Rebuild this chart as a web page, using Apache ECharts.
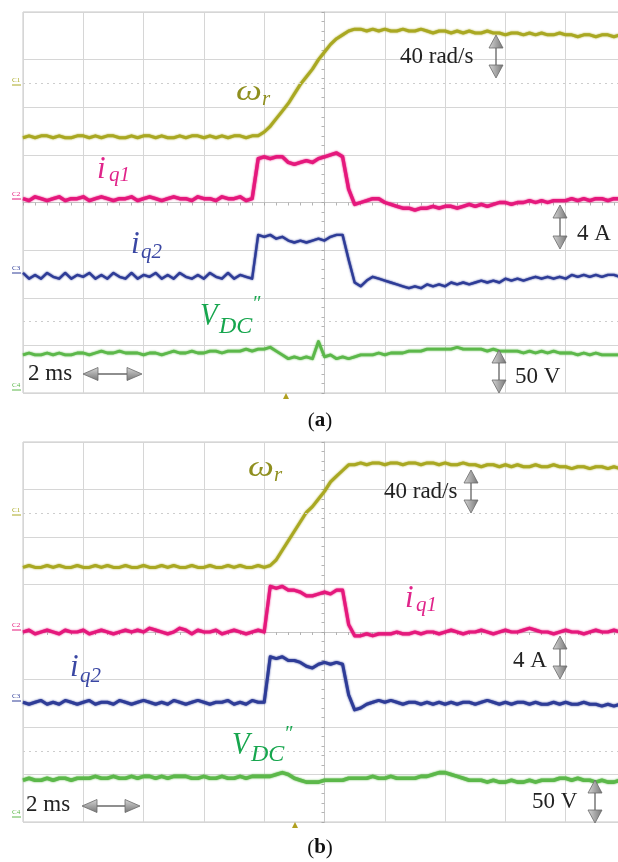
<!DOCTYPE html>
<html><head><meta charset="utf-8">
<script src="https://cdn.jsdelivr.net/npm/echarts@6.0.0/dist/echarts.min.js"></script>
<style>html,body{margin:0;padding:0;background:#fff}#c{width:618px;height:862px}</style>
</head><body><div id="c"></div>
<script>
// Oscilloscope time base: 2 ms/div, 10 divisions, one sample every 0.2 ms
const SAMPLE_MS = 0.2, START_MS = -10;
// Values are in screen units: 25 units = 1 vertical division (0 = screen centre)

// ---------- panel (a) ----------
const omegaA = [34,35,34,35,35,34,35,34,34,35, 35,34,35,34,35,35,34,34,35,34, 35,35,34,35,34,34,35,34,35,35, 34,35,34,35,34,35,35,34,35,
  35,37,40,44,48,52,57,62,66,70,75,79,83,86,88,90,91,91,
  90,91,90,91,90,90,91,90,90,91, 90,89,90,90,89,90,89,90,89,89, 90,89,89,88,89,89,88,89,88,89, 88,88,89,88,88,87,88,88,87,88, 88,87,88,87];
const iq1A = [2,1,3,2,1,2,3,1,2,2, 3,1,2,3,2,1,2,2,3,1, 2,3,2,1,2,3,2,2,1,3, 2,2,1,3,2,2,3,1,2,
  23,24,23,24,24,21,20,21,22,21,23,24,25,26,24,7,-1,0,
  1,2,2,0,-1,-2,-3,-3,-4,-3, -3,-2,-3,-2,-2,-3,-2,-1,-2,-1, -2,-1,0,0,-1,0,0,1,0,1, 0,1,1,1,2,1,2,1,2,2, 1,2,2,2];
const iq2A = [-37,-40,-38,-40,-37,-39,-40,-37,-40,-38, -39,-37,-40,-38,-40,-37,-39,-40,-37,-40, -38,-39,-37,-40,-38,-40,-37,-39,-40,-38, -40,-37,-39,-40,-37,-40,-38,-39,-40,
  -17,-18,-17,-19,-18,-20,-21,-20,-21,-20,-19,-20,-18,-17,-17,-30,-42,-44,
  -41,-39,-40,-41,-42,-43,-44,-45,-44,-45, -43,-44,-43,-44,-42,-43,-42,-43,-42,-41, -42,-41,-42,-40,-41,-40,-41,-40,-39,-40, -39,-40,-39,-40,-38,-39,-38,-39,-38,-39, -38,-38,-39,-38];
const vdcA = [-80,-79,-80,-80,-79,-80,-79,-80,-80,-79, -79,-80,-79,-78,-79,-79,-78,-79,-79,-79, -80,-79,-79,-80,-79,-78,-79,-79,-78,-79, -79,-78,-78,-79,-78,-78,-78,-77,-78,
  -77,-77,-76,-78,-80,-82,-81,-82,-81,-82, -73,-81,-80,-82,-81,-82,-81,-80,-80,-80, -79,-80,-79,-79,-79,-78,-78,-78,-77,-77,
  -77,-77,-77,-76,-77,-77,-77,-77,-78,-77, -78,-78,-78,-78,-79,-78,-79,-78,-79,-78, -79,-79,-79,-80,-79,-80,-79,-80,-80,-80, -80,-80];

// ---------- panel (b) ----------
const omegaB = [34,35,34,34,35,34,35,34,34,35, 34,34,35,34,35,34,34,35,34,34, 35,34,34,35,34,35,34,34,35,34, 34,35,34,34,35,34,35,34,34,35, 34,
  35,38,43,48,53,58,63,66,70,74,79,82,85,88,
  88,89,88,89,89,88,89,89,88,89, 89,88,89,89,88,89,88,88,89,88, 88,87,88,88,87,88,87,88,87,87, 88,87,87,88,87,87,86,87,87,86, 87,87,86,87,86,86];
const iq1B = [0,1,-1,0,1,0,-1,1,0,0, 1,-1,0,1,0,-1,0,1,0,1, 0,2,1,0,-1,0,2,1,-1,1, 0,0,1,-1,0,1,0,-1,0,1, 0,
  24,23,24,22,22,21,19,19,20,21,20,22,22,4,-2,-2,
  -1,-2,-1,-1,-1,0,-1,-1,0,-1, 0,0,-1,0,1,0,-1,0,0,1, 0,-1,0,1,0,0,1,2,1,0, 0,-1,0,1,0,0,-1,0,1,0, 0,1,0,0];
const iq2B = [-37,-38,-37,-36,-38,-37,-38,-36,-37,-38, -37,-36,-38,-37,-37,-38,-36,-37,-38,-37, -36,-37,-38,-37,-38,-36,-37,-38,-37,-36, -37,-38,-37,-37,-36,-38,-37,-38,-36,-37, -37,
  -13,-14,-13,-15,-15,-16,-18,-19,-17,-16,-17,-16,-17,-33,-41,-40,
  -38,-37,-36,-37,-36,-37,-38,-37,-37,-38, -37,-38,-37,-38,-37,-38,-37,-37,-38,-37, -36,-37,-38,-37,-38,-37,-37,-38,-37,-38, -38,-37,-38,-37,-38,-38,-37,-38,-38,-39, -38,-39,-38,-39];
const vdcB = [-78,-77,-78,-78,-77,-78,-77,-77,-78,-77, -77,-77,-76,-77,-77,-76,-77,-77,-76,-77, -76,-76,-77,-76,-77,-76,-76,-76,-77,-77, -76,-77,-77,-76,-77,-77,-76,-77,-76,-76, -76,
  -76,-75,-74,-75,-77,-78,-79,-79,-79,-78, -78,-78,-78,-77,-77,-77,-77,-76,-77,-77, -76,-77,-77,-77,-77,-76,-76,-75,-74,-74,
  -75,-76,-77,-78,-78,-78,-79,-78,-79,-79, -78,-79,-79,-78,-79,-78,-78,-78,-77,-77, -78,-77,-78,-78,-79,-78,-79,-79,-78,-78];

const refLevels = [62.5, -62.5];
const panelTags = ['a', 'b'];
const scaleTexts = ['40 rad/s', '4 A', '50 V', '2 ms'];

const COL = {w:'#a9a822', iq1:'#e5187c', iq2:'#2e3c97', vdc:'#5cb84a'};
const LAB = {w:'#8f8f1f', iq1:'#e0248a', iq2:'#3a47a3', vdc:'#17a64e'};
const SERIF = '"Liberation Serif","DejaVu Serif",serif';

function pairs(arr){ return arr.map((v,i)=>[+(START_MS + i*SAMPLE_MS).toFixed(2), v]); }

function trace(data, g, color, width, extra){
  return Object.assign({type:'line', xAxisIndex:g, yAxisIndex:g, data:pairs(data), showSymbol:false, symbol:'none',
    lineStyle:{color, width, shadowBlur:2, shadowColor:color, join:'round'}, silent:true, animation:false}, extra||{});
}
function xAx(g){ return {type:'value', gridIndex:g, min:-10, max:10, interval:2,
  axisLabel:{show:false}, splitLine:{show:true, lineStyle:{color:'#d6d6d6', width:1}},
  axisLine:{show:true, onZero:true, lineStyle:{color:'#c6c6c6', width:1}},
  axisTick:{show:true, inside:false, length:3, lineStyle:{color:'#aaa'}},
  minorTick:{show:true, splitNumber:5, length:3, lineStyle:{color:'#b4b4b4'}}, minorSplitLine:{show:false}}; }
function yAx(g){ return {type:'value', gridIndex:g, min:-100, max:100, interval:25,
  axisLabel:{show:false}, splitLine:{show:true, lineStyle:{color:'#d6d6d6', width:1}},
  axisLine:{show:true, onZero:true, lineStyle:{color:'#c6c6c6', width:1}},
  axisTick:{show:true, inside:false, length:3, lineStyle:{color:'#aaa'}},
  minorTick:{show:true, splitNumber:5, length:3, lineStyle:{color:'#b4b4b4'}}, minorSplitLine:{show:false}}; }

const refLine = {silent:true, symbol:'none', label:{show:false}, animation:false,
  lineStyle:{type:[2,4], color:'#cdcdcd', width:1, shadowBlur:0}, data: refLevels.map(v=>({yAxis:v}))};

function T(x, y, text, size, color, o){
  o = o||{};
  return {type:'text', x, y, z:100, silent:true, rotation:o.rot||0, scaleX:o.sx||1,
    style:{text, fill:color, fontSize:size, fontFamily:SERIF, fontStyle:o.italic?'italic':'normal',
      fontWeight:o.bold?'bold':'normal', textAlign:o.align||'left', textVerticalAlign:'middle', rich:o.rich}};
}
function grad(){ return new echarts.graphic.LinearGradient(0,0,1,0,[{offset:0,color:'#d6d6d6'},{offset:1,color:'#767676'}]); }
function vArrow(x, y1, y2){
  const hw=7, hh=13;
  return [
    {type:'line', z:99, silent:true, shape:{x1:x,y1:y1+hh,x2:x,y2:y2-hh}, style:{stroke:'#555', lineWidth:1.2}},
    {type:'polygon', z:100, silent:true, shape:{points:[[x,y1],[x-hw,y1+hh],[x+hw,y1+hh]]}, style:{fill:grad(), stroke:'#6a6a6a', lineWidth:0.8}},
    {type:'polygon', z:100, silent:true, shape:{points:[[x,y2],[x-hw,y2-hh],[x+hw,y2-hh]]}, style:{fill:grad(), stroke:'#6a6a6a', lineWidth:0.8}}
  ];
}
function hArrow(x1, x2, y){
  const hw=15, hh=6.5;
  const g2 = ()=>new echarts.graphic.LinearGradient(0,0,0,1,[{offset:0,color:'#d6d6d6'},{offset:1,color:'#767676'}]);
  return [
    {type:'line', z:99, silent:true, shape:{x1:x1+hw,y1:y,x2:x2-hw,y2:y}, style:{stroke:'#444', lineWidth:1.2}},
    {type:'polygon', z:100, silent:true, shape:{points:[[x1,y],[x1+hw,y-hh],[x1+hw,y+hh]]}, style:{fill:g2(), stroke:'#6a6a6a', lineWidth:0.8}},
    {type:'polygon', z:100, silent:true, shape:{points:[[x2,y],[x2-hw,y-hh],[x2-hw,y+hh]]}, style:{fill:g2(), stroke:'#6a6a6a', lineWidth:0.8}}
  ];
}
function chan(x, y, t, c){ return [T(x, y, t, 7, c, {}), {type:'line', z:100, silent:true, shape:{x1:x, y1:y+5, x2:x+9, y2:y+5}, style:{stroke:c, lineWidth:1}}]; }
function trig(x, y){ return {type:'polygon', z:100, silent:true, shape:{points:[[x,y-4],[x-3,y+2],[x+3,y+2]]}, style:{fill:'#b0a020'}}; }

const graphics = [].concat(
  // panel (a)
  T(236, 92, 'ω', 30, LAB.w, {italic:true, sx:1.22}), T(262, 99, 'r', 21, LAB.w, {italic:true}),
  T(97, 169.5, 'i', 31, LAB.iq1, {italic:true}), T(109, 175, 'q1', 21, LAB.iq1, {italic:true}),
  T(131, 244.5, 'i', 31, LAB.iq2, {italic:true}), T(141, 252, 'q2', 21, LAB.iq2, {italic:true}),
  T(200, 317, 'V', 32, LAB.vdc, {italic:true, sx:0.9}), T(219, 327, 'DC', 24, LAB.vdc, {italic:true}), T(252, 305, '″', 20, LAB.vdc, {italic:true}),
  T(400, 57, scaleTexts[0], 23, '#222'), vArrow(496, 35, 78),
  T(577, 234, scaleTexts[1], 23, '#222'), vArrow(560, 205, 249),
  T(515, 377, scaleTexts[2], 23, '#222'), vArrow(499, 350, 393),
  T(28, 374, scaleTexts[3], 23, '#222'), hArrow(83, 142, 374),
  T(320, 421, '({b|' + panelTags[0] + '})', 21, '#111', {align:'center', rich:{b:{fontWeight:'bold', fontSize:21, fontFamily:SERIF, fill:'#111'}}}),
  chan(12, 80, 'C1', COL.w), chan(12, 194, 'C2', COL.iq1), chan(12, 268, 'C3', COL.iq2), chan(12, 385, 'C4', COL.vdc),
  trig(286, 397),
  // panel (b)
  T(248, 468, 'ω', 30, LAB.w, {italic:true, sx:1.22}), T(274, 475, 'r', 21, LAB.w, {italic:true}),
  T(384, 492, scaleTexts[0], 23, '#222'), vArrow(471, 470, 513),
  T(405, 598.5, 'i', 31, LAB.iq1, {italic:true}), T(416, 605, 'q1', 21, LAB.iq1, {italic:true}),
  T(513, 661, scaleTexts[1], 23, '#222'), vArrow(560, 636, 679),
  T(70, 667.5, 'i', 31, LAB.iq2, {italic:true}), T(80, 676, 'q2', 21, LAB.iq2, {italic:true}),
  T(232, 746, 'V', 32, LAB.vdc, {italic:true, sx:0.9}), T(251, 755, 'DC', 24, LAB.vdc, {italic:true}), T(284, 735, '″', 20, LAB.vdc, {italic:true}),
  T(26, 805, scaleTexts[3], 23, '#222'), hArrow(82, 140, 806),
  T(532, 802, scaleTexts[2], 23, '#222'), vArrow(595, 780, 823),
  T(320, 848, '({b|' + panelTags[1] + '})', 21, '#111', {align:'center', rich:{b:{fontWeight:'bold', fontSize:21, fontFamily:SERIF, fill:'#111'}}}),
  chan(12, 510, 'C1', COL.w), chan(12, 625, 'C2', COL.iq1), chan(12, 696, 'C3', COL.iq2), chan(12, 812, 'C4', COL.vdc),
  trig(295, 826)
);

const chart = echarts.init(document.getElementById('c'), null, {renderer:'canvas'});
chart.setOption({
  animation:false, backgroundColor:'#fff',
  grid:[
    {left:23, top:12, right:-8, height:381, show:true, borderColor:'#c6c6c6', borderWidth:1, backgroundColor:'transparent', containLabel:false, outerBoundsMode:'none'},
    {left:23, top:442, right:-8, height:380, show:true, borderColor:'#c6c6c6', borderWidth:1, backgroundColor:'transparent', containLabel:false, outerBoundsMode:'none'}
  ],
  xAxis:[xAx(0), xAx(1)],
  yAxis:[yAx(0), yAx(1)],
  series:[
    trace(vdcA, 0, COL.vdc, 2.8, {markLine:refLine}),
    trace(iq2A, 0, COL.iq2, 2.4),
    trace(iq1A, 0, COL.iq1, 3.4),
    trace(omegaA, 0, COL.w, 3),
    trace(vdcB, 1, COL.vdc, 3.6, {markLine:refLine}),
    trace(iq2B, 1, COL.iq2, 3),
    trace(iq1B, 1, COL.iq1, 3.2),
    trace(omegaB, 1, COL.w, 3)
  ],
  graphic: graphics
});
</script></body></html>
